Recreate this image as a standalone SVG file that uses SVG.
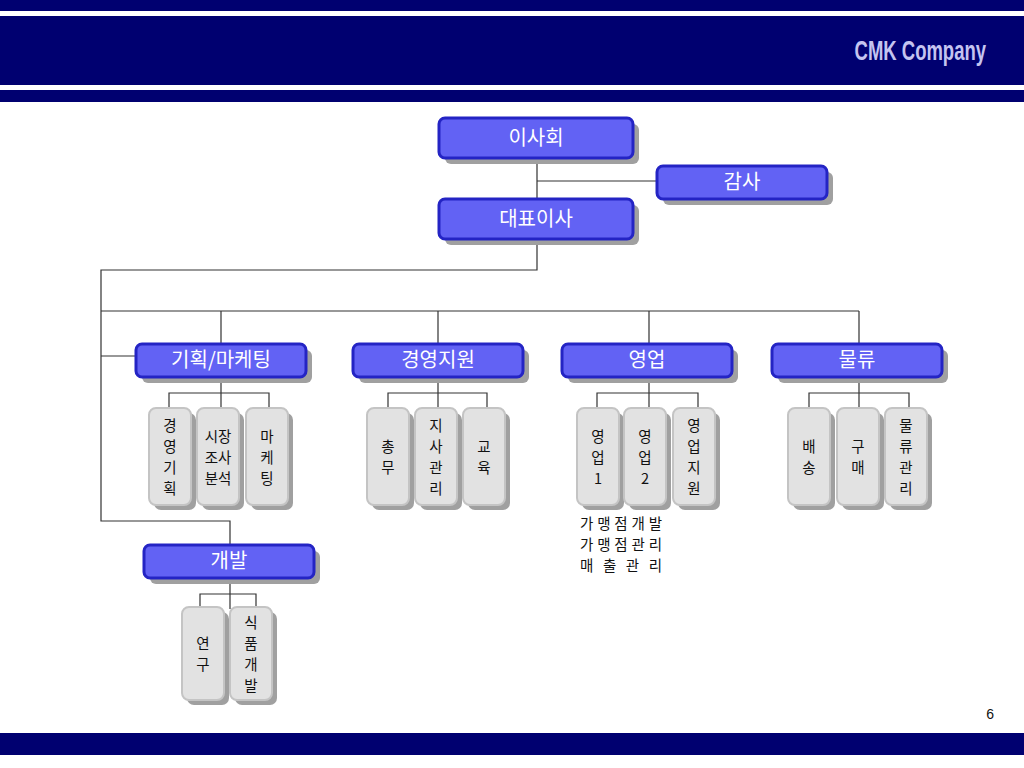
<svg xmlns="http://www.w3.org/2000/svg" width="1024" height="768" viewBox="0 0 1024 768">
<defs>
<style>
.band{fill:#000070}
.shd{fill:#a0a0a0}
.bn{fill:#6262f4;stroke:#2424c4;stroke-width:3}
.gn{fill:#e2e2e2;stroke:#c4c4c4;stroke-width:2}
.bt{font-family:"Noto Sans CJK KR","Liberation Sans",sans-serif;font-size:20px;fill:#ffffff;text-anchor:middle}
.gt{font-family:"Noto Sans CJK KR","Liberation Sans",sans-serif;font-size:14.5px;fill:#111111;text-anchor:middle}
.nt{font-family:"Noto Sans CJK KR","Liberation Sans",sans-serif;font-size:14.5px;fill:#111111}
.ln{fill:none;stroke:#333333;stroke-width:1.2}
</style>
</defs>
<rect width="1024" height="768" fill="#ffffff"/>
<g id="header">
<rect class="band" x="0" y="0" width="1024" height="11"/>
<rect class="band" x="0" y="16" width="1024" height="69"/>
<rect class="band" x="0" y="90" width="1024" height="12"/>
<text transform="translate(986,60) scale(0.66,1)" text-anchor="end" font-family="Liberation Sans, sans-serif" font-weight="bold" font-size="28" fill="#c4c4f0">CMK Company</text>
</g>
<g id="footer">
<rect class="band" x="0" y="733" width="1024" height="22"/>
<text x="994" y="719" text-anchor="end" font-family="Liberation Sans, sans-serif" font-size="14" fill="#111111">6</text>
</g>
<g id="connectors">
<path class="ln" d="M537 158V199M537 181H657"/>
<path class="ln" d="M537 239V270H101V521H230V545"/>
<path class="ln" d="M101 311H859M221 311V344M438 311V344M649 311V344M859 311V344M101 356H136"/>
<path class="ln" d="M221 377V408M169 408V393H269V408"/>
<path class="ln" d="M438 377V408M388 408V393H487V408"/>
<path class="ln" d="M649 377V408M597 408V393H698V408"/>
<path class="ln" d="M859 377V408M809 408V393H909V408"/>
<path class="ln" d="M230 578V609M200 609V594H256V609"/>
</g>
<g id="n-isahoe">
<rect class="shd" x="445" y="124" width="194" height="40" rx="6"/>
<rect class="bn" x="439" y="118" width="194" height="40" rx="6"/>
<text class="bt" x="536" y="145">이사회</text>
</g>
<g id="n-gamsa">
<rect class="shd" x="663" y="172" width="170" height="33" rx="6"/>
<rect class="bn" x="657" y="166" width="170" height="33" rx="6"/>
<text class="bt" x="742" y="189">감사</text>
</g>
<g id="n-ceo">
<rect class="shd" x="445" y="205" width="194" height="40" rx="6"/>
<rect class="bn" x="439" y="199" width="194" height="40" rx="6"/>
<text class="bt" x="536" y="226">대표이사</text>
</g>
<g id="n-plan">
<rect class="shd" x="142" y="350" width="170" height="33" rx="6"/>
<rect class="bn" x="136" y="344" width="170" height="33" rx="6"/>
<text class="bt" x="221" y="367">기획/마케팅</text>
</g>
<g id="n-mgmt">
<rect class="shd" x="359" y="350" width="170" height="33" rx="6"/>
<rect class="bn" x="353" y="344" width="170" height="33" rx="6"/>
<text class="bt" x="438" y="367">경영지원</text>
</g>
<g id="n-sales">
<rect class="shd" x="568" y="350" width="170" height="33" rx="6"/>
<rect class="bn" x="562" y="344" width="170" height="33" rx="6"/>
<text class="bt" x="647" y="367">영업</text>
</g>
<g id="n-logi">
<rect class="shd" x="778" y="350" width="170" height="33" rx="6"/>
<rect class="bn" x="772" y="344" width="170" height="33" rx="6"/>
<text class="bt" x="857" y="367">물류</text>
</g>
<g id="n-dev">
<rect class="shd" x="150" y="551" width="170" height="33" rx="6"/>
<rect class="bn" x="144" y="545" width="170" height="33" rx="6"/>
<text class="bt" x="229" y="568">개발</text>
</g>
<g id="n-plan1">
<rect class="shd" x="154" y="413" width="42" height="97" rx="7"/>
<rect class="gn" x="149" y="408" width="42" height="97" rx="7"/>
<text class="gt"><tspan x="170" y="431">경</tspan><tspan x="170" y="452">영</tspan><tspan x="170" y="473">기</tspan><tspan x="170" y="494">획</tspan></text>
</g>
<g id="n-plan2">
<rect class="shd" x="202" y="413" width="42" height="97" rx="7"/>
<rect class="gn" x="197" y="408" width="42" height="97" rx="7"/>
<text class="gt"><tspan x="218" y="442">시장</tspan><tspan x="218" y="463">조사</tspan><tspan x="218" y="484">분석</tspan></text>
</g>
<g id="n-plan3">
<rect class="shd" x="251" y="413" width="42" height="97" rx="7"/>
<rect class="gn" x="246" y="408" width="42" height="97" rx="7"/>
<text class="gt"><tspan x="267" y="442">마</tspan><tspan x="267" y="463">케</tspan><tspan x="267" y="484">팅</tspan></text>
</g>
<g id="n-mgmt1">
<rect class="shd" x="372" y="413" width="42" height="97" rx="7"/>
<rect class="gn" x="367" y="408" width="42" height="97" rx="7"/>
<text class="gt"><tspan x="388" y="452">총</tspan><tspan x="388" y="473">무</tspan></text>
</g>
<g id="n-mgmt2">
<rect class="shd" x="420" y="413" width="42" height="97" rx="7"/>
<rect class="gn" x="415" y="408" width="42" height="97" rx="7"/>
<text class="gt"><tspan x="436" y="431">지</tspan><tspan x="436" y="452">사</tspan><tspan x="436" y="473">관</tspan><tspan x="436" y="494">리</tspan></text>
</g>
<g id="n-mgmt3">
<rect class="shd" x="468" y="413" width="42" height="97" rx="7"/>
<rect class="gn" x="463" y="408" width="42" height="97" rx="7"/>
<text class="gt"><tspan x="484" y="452">교</tspan><tspan x="484" y="473">육</tspan></text>
</g>
<g id="n-sales1">
<rect class="shd" x="582" y="413" width="42" height="97" rx="7"/>
<rect class="gn" x="577" y="408" width="42" height="97" rx="7"/>
<text class="gt"><tspan x="598" y="442">영</tspan><tspan x="598" y="463">업</tspan><tspan x="598" y="484">1</tspan></text>
</g>
<g id="n-sales2">
<rect class="shd" x="629" y="413" width="42" height="97" rx="7"/>
<rect class="gn" x="624" y="408" width="42" height="97" rx="7"/>
<text class="gt"><tspan x="645" y="442">영</tspan><tspan x="645" y="463">업</tspan><tspan x="645" y="484">2</tspan></text>
</g>
<g id="n-sales3">
<rect class="shd" x="678" y="413" width="42" height="97" rx="7"/>
<rect class="gn" x="673" y="408" width="42" height="97" rx="7"/>
<text class="gt"><tspan x="694" y="431">영</tspan><tspan x="694" y="452">업</tspan><tspan x="694" y="473">지</tspan><tspan x="694" y="494">원</tspan></text>
</g>
<g id="n-sales-note">
<text class="nt"><tspan x="580" y="529" textLength="82" lengthAdjust="spacing">가맹점개발</tspan><tspan x="580" y="550" textLength="82" lengthAdjust="spacing">가맹점관리</tspan><tspan x="580" y="571" textLength="82" lengthAdjust="spacing">매 출 관 리</tspan></text>
</g>
<g id="n-logi1">
<rect class="shd" x="793" y="413" width="42" height="97" rx="7"/>
<rect class="gn" x="788" y="408" width="42" height="97" rx="7"/>
<text class="gt"><tspan x="809" y="452">배</tspan><tspan x="809" y="473">송</tspan></text>
</g>
<g id="n-logi2">
<rect class="shd" x="842" y="413" width="42" height="97" rx="7"/>
<rect class="gn" x="837" y="408" width="42" height="97" rx="7"/>
<text class="gt"><tspan x="858" y="452">구</tspan><tspan x="858" y="473">매</tspan></text>
</g>
<g id="n-logi3">
<rect class="shd" x="890" y="413" width="42" height="97" rx="7"/>
<rect class="gn" x="885" y="408" width="42" height="97" rx="7"/>
<text class="gt"><tspan x="906" y="431">물</tspan><tspan x="906" y="452">류</tspan><tspan x="906" y="473">관</tspan><tspan x="906" y="494">리</tspan></text>
</g>
<g id="n-dev1">
<rect class="shd" x="187" y="612" width="42" height="93" rx="7"/>
<rect class="gn" x="182" y="607" width="42" height="93" rx="7"/>
<text class="gt"><tspan x="203" y="649">연</tspan><tspan x="203" y="670">구</tspan></text>
</g>
<g id="n-dev2">
<rect class="shd" x="235" y="612" width="42" height="93" rx="7"/>
<rect class="gn" x="230" y="607" width="42" height="93" rx="7"/>
<text class="gt"><tspan x="251" y="628">식</tspan><tspan x="251" y="649">품</tspan><tspan x="251" y="670">개</tspan><tspan x="251" y="691">발</tspan></text>
</g>
</svg>
